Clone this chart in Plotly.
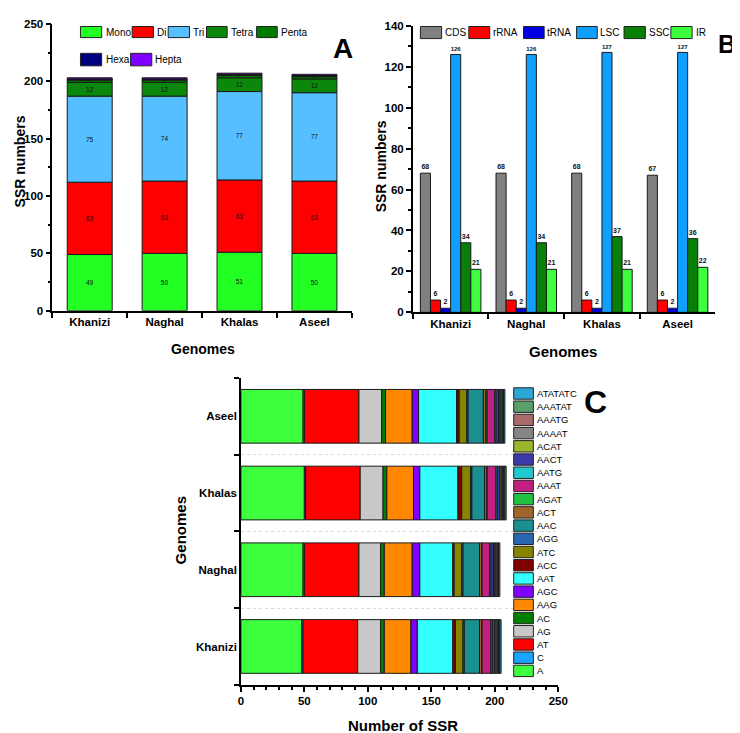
import plotly.graph_objects as go
import numpy as np

W, H = 740, 733

genomes = ["Khanizi", "Naghal", "Khalas", "Aseel"]

# ---------------- Panel A : SSR types ----------------
ssr_types = ["Mono", "Di", "Tri", "Tetra", "Penta", "Hexa", "Hepta"]
mono = [49, 50, 51, 50]
di = [63, 63, 63, 63]
tri = [75, 74, 77, 77]
tetra = [12, 12, 12, 12]
penta = [2, 2, 2, 2]
hexa = [1, 1, 1, 1]
hepta = [1, 1, 1, 1]
a_series = [mono, di, tri, tetra, penta, hexa, hepta]
a_labeled = [True, True, True, True, True, False, False]
a_colors = ["#22FF22", "#FF0000", "#55BFFF", "#0B880B", "#007A00", "#000080", "#8000FF"]

# ---------------- Panel B : SSR location ----------------
regions = ["CDS", "rRNA", "tRNA", "LSC", "SSC", "IR"]
cds = [68, 68, 68, 67]
rrna = [6, 6, 6, 6]
trna = [2, 2, 2, 2]
lsc = [126, 126, 127, 127]
ssc = [34, 34, 37, 36]
ir = [21, 21, 21, 22]
b_series = [cds, rrna, trna, lsc, ssc, ir]
b_colors = ["#808080", "#FF0000", "#0000E0", "#0FA0FF", "#078007", "#3DFF3D"]

# ---------------- Panel C : motifs ----------------
motifs = ["A", "C", "AT", "AG", "AC", "AAG", "AGC", "AAT", "ACC", "ATC", "AGG",
          "AAC", "ACT", "AGAT", "AAAT", "AATG", "AACT", "ACAT", "AAAAT", "AAATG",
          "AAATAT", "ATATATC"]
#                 Khanizi Naghal Khalas Aseel
motif_counts = {
    "A":       [48, 49, 50, 49],
    "C":       [1, 1, 1, 1],
    "AT":      [43, 43, 43, 43],
    "AG":      [18, 17, 18, 18],
    "AC":      [3, 3, 3, 3],
    "AAG":     [21, 22, 21, 21],
    "AGC":     [5, 6, 5, 5],
    "AAT":     [28, 26, 30, 30],
    "ACC":     [2, 1, 3, 2],
    "ATC":     [6, 6, 7, 6],
    "AGG":     [1, 1, 1, 1],
    "AAC":     [12, 13, 10, 12],
    "ACT":     [2, 2, 2, 2],
    "AGAT":    [0, 0, 0, 1],
    "AAAT":    [7, 6, 7, 6],
    "AATG":    [1, 1, 1, 1],
    "AACT":    [2, 2, 2, 2],
    "ACAT":    [1, 1, 1, 1],
    "AAAAT":   [1, 1, 1, 1],
    "AAATG":   [1, 1, 1, 1],
    "AAATAT":  [1, 1, 1, 1],
    "ATATATC": [1, 1, 1, 1],
}
c_colors = {
    "A": "#3DFF3D", "C": "#1AA3FF", "AT": "#FF0000", "AG": "#C8C8C8", "AC": "#008000",
    "AAG": "#FF8800", "AGC": "#8000FF", "AAT": "#33FFFF", "ACC": "#800000",
    "ATC": "#858500", "AGG": "#2A65B0", "AAC": "#1A9090", "ACT": "#A0652A",
    "AGAT": "#20C040", "AAAT": "#C0207F", "AATG": "#22C8D0", "AACT": "#3A3AA8",
    "ACAT": "#9AB62A", "AAAAT": "#868686", "AAATG": "#A86A6A", "AAATAT": "#5A9E6A",
    "ATATATC": "#2BA8D8",
}

SANS = "Liberation Sans, Arial, sans-serif"


def X(px):
    return px / W


def Y(py):
    return 1 - py / H


fig = go.Figure()

# Panel A stacked bars
base = np.zeros(len(genomes))
for name, vals, col, lab in zip(ssr_types, a_series, a_colors, a_labeled):
    fig.add_trace(go.Bar(
        x=genomes, y=vals, base=base.copy(), name=name,
        marker=dict(color=col, line=dict(color="#1a1a1a", width=1)),
        width=0.6, offset=-0.3,
        text=[str(v) for v in vals] if lab else None,
        textposition="inside" if lab else "none", insidetextanchor="middle",
        textfont=dict(size=6.5, color="#111", family=SANS),
        xaxis="x", yaxis="y", showlegend=False, hoverinfo="skip",
    ))
    base = base + np.array(vals)

# Panel B grouped bars
nb = len(b_series)
bw = 0.8 / nb
for i, (name, vals, col) in enumerate(zip(regions, b_series, b_colors)):
    fig.add_trace(go.Bar(
        x=genomes, y=vals, name=name,
        marker=dict(color=col, line=dict(color="#1a1a1a", width=1)),
        width=bw, offset=-0.4 + i * bw,
        text=[str(v) for v in vals], textposition="outside",
        textfont=dict(size=7, color="#111", family=SANS, weight="bold"),
        cliponaxis=False,
        xaxis="x2", yaxis="y2", showlegend=False, hoverinfo="skip",
    ))

# Panel C stacked horizontal bars
base = np.zeros(len(genomes))
for m in motifs:
    vals = motif_counts[m]
    fig.add_trace(go.Bar(
        y=genomes, x=vals, base=base.copy(), name=m, orientation="h",
        marker=dict(color=c_colors[m], line=dict(color="#1a1a1a", width=1)),
        width=0.7, offset=-0.35,
        xaxis="x3", yaxis="y3", showlegend=False, hoverinfo="skip",
    ))
    base = base + np.array(vals)

tickf = dict(family=SANS, size=11.5, color="#000", weight="bold")
axcommon = dict(showline=True, linecolor="#000", linewidth=1.5, ticks="outside",
                ticklen=5, tickwidth=1.5, tickcolor="#000", tickfont=tickf,
                zeroline=False, showgrid=False)

fig.update_layout(
    width=W, height=H, margin=dict(l=0, r=0, t=0, b=0),
    paper_bgcolor="white", plot_bgcolor="white", barmode="overlay",
    font=dict(family=SANS, color="#000"),
    uniformtext=dict(minsize=6.5, mode="show"),
    xaxis=dict(domain=[X(42), X(347)], anchor="y", type="category",
               range=[-0.5, 3.5], tickson="boundaries", **axcommon),
    yaxis=dict(domain=[Y(301.7), Y(10)], anchor="x", range=[0, 250], dtick=50,
               minor=dict(dtick=25, ticks="outside", ticklen=3, tickcolor="#000"),
               **axcommon),
    xaxis2=dict(domain=[X(409), X(717)], anchor="y2", type="category",
                range=[-0.5, 3.5], tickson="boundaries", **axcommon),
    yaxis2=dict(domain=[Y(303.3), Y(12)], anchor="x2", range=[0, 140], dtick=20,
                minor=dict(dtick=10, ticks="outside", ticklen=3, tickcolor="#000"),
                **axcommon),
    xaxis3=dict(domain=[X(234), X(557)], anchor="y3", range=[0, 250], dtick=50,
                minor=dict(dtick=10, ticks="outside", ticklen=3, tickcolor="#000"),
                **axcommon),
    yaxis3=dict(domain=[Y(682), Y(370)], anchor="x3", type="category",
                range=[-0.5, 3.5], tickson="boundaries",
                **{k: v for k, v in axcommon.items() if k != "showgrid"},
                showgrid=True, gridcolor="#d8d8d8", griddash="dot", gridwidth=1),
)

shapes = []
annots = []


def legend_item(x0, x1, y0, y1, color, label, tx, size):
    shapes.append(dict(type="rect", xref="paper", yref="paper",
                       x0=X(x0), x1=X(x1), y0=Y(y1), y1=Y(y0),
                       fillcolor=color, line=dict(color="#222", width=1)))
    annots.append(dict(text=label, xref="paper", yref="paper", x=X(tx),
                       y=Y((y0 + y1) / 2), xanchor="left", yanchor="middle",
                       showarrow=False, font=dict(family=SANS, size=size, color="#000")))


# Panel A legend
a_leg = [(70.7, 92.3, 12.7, 24, 94.7), (123.3, 145, 12.7, 24, 146.7),
         (160, 181.7, 12.7, 24, 183.3), (199, 220, 12.7, 24, 221.7),
         (250, 271, 12.7, 24, 273), (70.7, 92.3, 40, 52.7, 94.7),
         (121.7, 143.3, 40, 52.7, 145)]
for (x0, x1, y0, y1, tx), name, col in zip(a_leg, ssr_types, a_colors):
    legend_item(x0, x1, y0, y1, col, name, tx, 10)

# Panel B legend
b_leg = [(416.7, 438.3, 439.7), (466, 487.3, 489), (521.7, 542.7, 544),
         (575.7, 596.7, 598), (624, 645.7, 647.3), (671.7, 693.3, 695)]
for (x0, x1, tx), name, col in zip(b_leg, regions, b_colors):
    legend_item(x0, x1, 12.7, 25, col, name, tx, 10)

# Panel C legend (top = last motif)
for i, m in enumerate(reversed(motifs)):
    cy = 385.8 + i * 13.43
    legend_item(511.7, 531.7, cy - 5.8, cy + 5.8, c_colors[m], m, 533.5, 9.5)

fig.update_layout(shapes=shapes)


def txt(s, x, y, size, angle=0, xanchor="center"):
    annots.append(dict(text=s, xref="paper", yref="paper", x=X(x), y=Y(y),
                       xanchor=xanchor, yanchor="middle", showarrow=False,
                       textangle=angle,
                       font=dict(family=SANS, size=size, color="#000", weight="bold")))


txt("A", 337.5, 35, 28)
txt("B", 739.5, 31, 25, xanchor="right")
txt("C", 595.3, 394, 32)
txt("SSR numbers", 9, 150, 14, angle=-90)
txt("Genomes", 195, 341, 14)
txt("SSR numbers", 377.5, 155, 14, angle=-90)
txt("Genomes", 562, 343.3, 15)
txt("Genomes", 172, 525, 15, angle=-90)
txt("Number of SSR", 398.7, 723.3, 15)

fig.update_layout(annotations=annots)
fig.write_html("out.html")
